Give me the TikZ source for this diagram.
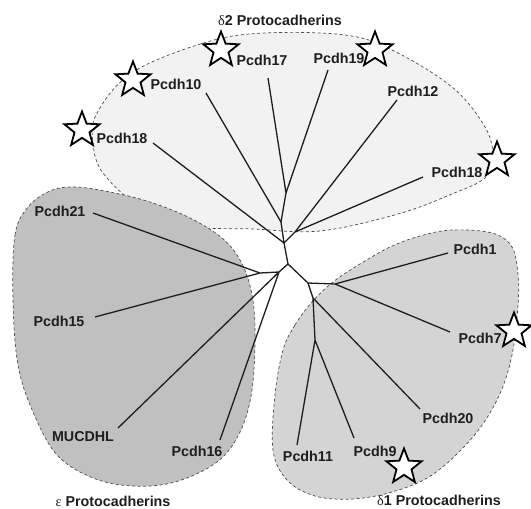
\documentclass[tikz,border=0pt]{standalone}
\usepackage{fontspec}
\setmainfont{Liberation Sans}
\newfontfamily\grk{Liberation Serif}
\usetikzlibrary{shapes.geometric}
\definecolor{dtwo}{HTML}{F2F2F2}
\definecolor{eps}{HTML}{C0C0C0}
\definecolor{done}{HTML}{D4D4D4}
\definecolor{ink}{HTML}{1E1E1E}
\tikzset{
  region/.style={draw=black!70, dashed, dash pattern=on 3pt off 2.5pt, line width=0.7pt},
  branch/.style={draw=ink, line width=1.3pt},
  leaf/.style={font=\bfseries\fontsize{14.3}{16}\selectfont, text=ink, inner sep=0pt},
  grouptitle/.style={font=\bfseries\fontsize{14.3}{16}\selectfont, text=ink, inner sep=0pt},
  starmark/.style={star, star points=5, star point ratio=2.35, minimum size=37pt, inner sep=0pt, draw=black, line width=1.8pt, fill=white}
}
\begin{document}
\begin{tikzpicture}[x=1pt,y=-1pt]
\useasboundingbox (0,0) rectangle (531,509);
% regions
\path[region, fill=dtwo] plot[smooth cycle, tension=0.6] coordinates {
 (265,33) (345,35) (392,50) (452,87) (485,127) (493,157) (485,178) (452,194)
 (398,214) (320,231) (253,229) (187,226) (140,207) (103,173) (93,143) (97,113)
 (133,72) (207,42)};
\path[region, fill=eps] plot[smooth cycle, tension=0.6] coordinates {
 (13,300) (15,235) (28,207) (50,191) (75,187) (110,192) (150,202) (190,218)
 (222,238) (240,260) (251,290) (255,330) (252,390) (240,432) (217,462)
 (175,482) (133,486) (93,478) (57,455) (33,412) (18,365)};
\path[region, fill=done] plot[smooth cycle, tension=0.6] coordinates {
 (283,350) (295,325) (312,302) (333,282) (360,264) (390,247) (420,236)
 (452,230) (492,233) (512,247) (518,275) (518,305) (512,355) (498,398)
 (472,438) (432,475) (392,492) (352,499) (315,496) (287,480) (273,450)
 (275,395)};
% internal nodes
\coordinate (c0) at (288,264);
\coordinate (u1) at (284,243);
\coordinate (u2) at (281,222);
\coordinate (u3) at (286,193);
\coordinate (u4) at (295,232);
\coordinate (l1) at (279,272);
\coordinate (l2) at (260,273);
\coordinate (r1) at (308,283);
\coordinate (r2) at (335,284);
\coordinate (r3) at (313,298);
\coordinate (r4) at (315,340);
% tips
\coordinate (t10) at (206,93);
\coordinate (t18a) at (153,143);
\coordinate (t17) at (268,78);
\coordinate (t19) at (328,70);
\coordinate (t12) at (397,100);
\coordinate (t18b) at (423,177);
\coordinate (t21) at (93,213);
\coordinate (t15) at (95,317);
\coordinate (tmu) at (118,428);
\coordinate (t16) at (220,440);
\coordinate (t1) at (448,253);
\coordinate (t7) at (450,332);
\coordinate (t20) at (420,409);
\coordinate (t9) at (354,438);
\coordinate (t11) at (297,445);
% branches
\draw[branch] (c0) -- (u1) (u1) -- (u2) (u2) -- (u3) (u1) -- (u4);
\draw[branch] (u2) -- (t10) (u1) -- (t18a) (u3) -- (t17) (u3) -- (t19)
  (u4) -- (t12) (u4) -- (t18b);
\draw[branch] (c0) -- (l1) (l1) -- (l2) (l2) -- (t21) (l2) -- (t15)
  (l1) -- (tmu) (l1) -- (t16);
\draw[branch] (c0) -- (r1) (r1) -- (r2) (r1) -- (r3) (r3) -- (r4)
  (r2) -- (t1) (r2) -- (t7) (r3) -- (t20) (r4) -- (t9) (r4) -- (t11);
% labels
\node[leaf] (p10) at (176,84) {Pcdh10};
\node[leaf] (p18a) at (122,138) {Pcdh18};
\node[leaf] (p17) at (262,60) {Pcdh17};
\node[leaf] (p19) at (339,58) {Pcdh19};
\node[leaf] (p12) at (413,91) {Pcdh12};
\node[leaf] (p18b) at (457,172) {Pcdh18};
\node[leaf] (p21) at (60,211) {Pcdh21};
\node[leaf] (p15) at (59,321) {Pcdh15};
\node[leaf] (pmu) at (83,437) {MUCDHL};
\node[leaf] (p16) at (197,451) {Pcdh16};
\node[leaf] (p1) at (475,249) {Pcdh1};
\node[leaf] (p7) at (480,338) {Pcdh7};
\node[leaf] (p20) at (448,418) {Pcdh20};
\node[leaf] (p9) at (375,451) {Pcdh9};
\node[leaf] (p11) at (308,456) {Pcdh11};
% titles
\node[grouptitle] (gd2) at (280,20) {{\grk\mdseries δ}2 Protocadherins};
\node[grouptitle] (geps) at (113,501) {{\grk\mdseries ε} Protocadherins};
\node[grouptitle] (gd1) at (439,500) {{\grk\mdseries δ}1 Protocadherins};
% stars
\node[starmark] (s10) at (133,80) {};
\node[starmark] (s18a) at (82,130) {};
\node[starmark] (s17) at (221,50) {};
\node[starmark] (s19) at (375,50) {};
\node[starmark] (s18b) at (497,160) {};
\node[starmark] (s7) at (514,331) {};
\node[starmark] (s9) at (404,467) {};
\end{tikzpicture}
\end{document}
